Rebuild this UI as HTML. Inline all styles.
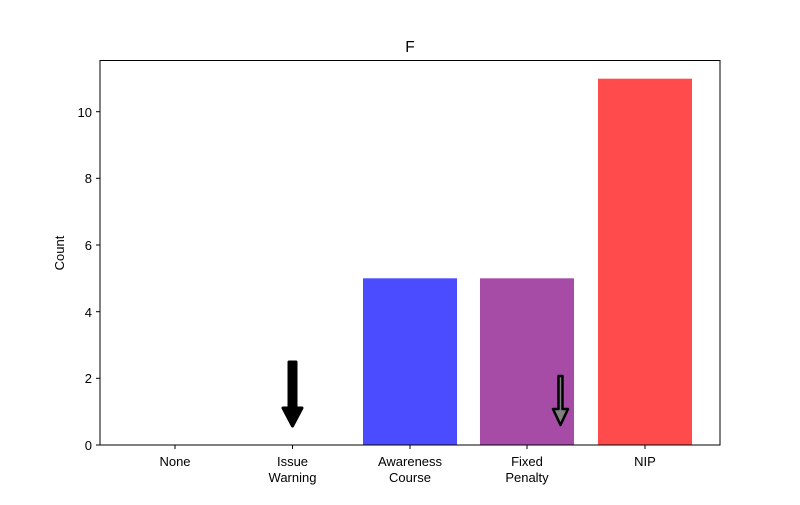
<!DOCTYPE html>
<html><head><style>body{margin:0;background:#fff}</style></head><body>
<svg width="800" height="500" xmlns="http://www.w3.org/2000/svg" font-family="Liberation Sans, DejaVu Sans, sans-serif" font-size="13">
<rect width="800" height="500" fill="#fff"/>
<rect x="363" y="278.3" width="94" height="166.7" fill="#4b4bff"/>
<rect x="480" y="278.3" width="94" height="166.7" fill="#a64ca6"/>
<rect x="598" y="78.7" width="94" height="366.3" fill="#ff4b4b"/>
<path d="M289,362 L296,362 L296,408 L302,408 L292.5,426 L283,408 L289,408 Z" fill="#000" stroke="#000" stroke-width="3" stroke-linejoin="round"/>
<path d="M558.5,376 L562.5,376 L562.5,409 L568,409 L560.5,425 L553,409 L558.5,409 Z" fill="#808080" stroke="#000" stroke-width="2.5" stroke-linejoin="round"/>
<rect x="100" y="60.5" width="620" height="384.5" fill="none" stroke="#000" stroke-width="1"/>
<g stroke="#000">
<line x1="100" y1="445" x2="96" y2="445"/><line x1="100" y1="378.3" x2="96" y2="378.3"/><line x1="100" y1="311.7" x2="96" y2="311.7"/><line x1="100" y1="245" x2="96" y2="245"/><line x1="100" y1="178.3" x2="96" y2="178.3"/><line x1="100" y1="111.7" x2="96" y2="111.7"/>
<line x1="175" y1="445" x2="175" y2="449"/><line x1="292.5" y1="445" x2="292.5" y2="449"/><line x1="410" y1="445" x2="410" y2="449"/><line x1="527" y1="445" x2="527" y2="449"/><line x1="645" y1="445" x2="645" y2="449"/>
</g>
<g text-anchor="end">
<text x="92" y="450">0</text><text x="92" y="383">2</text><text x="92" y="317">4</text><text x="92" y="250">6</text><text x="92" y="183">8</text><text x="92" y="117">10</text>
</g>
<g text-anchor="middle">
<text x="175" y="466">None</text>
<text x="292.5" y="466">Issue</text><text x="292.5" y="482">Warning</text>
<text x="410" y="466">Awareness</text><text x="410" y="482">Course</text>
<text x="527" y="466">Fixed</text><text x="527" y="482">Penalty</text>
<text x="645" y="466">NIP</text>
<text x="410" y="52" font-size="15.5">F</text>
<text transform="translate(64,253) rotate(-90)">Count</text>
</g>
</svg>
</body></html>
